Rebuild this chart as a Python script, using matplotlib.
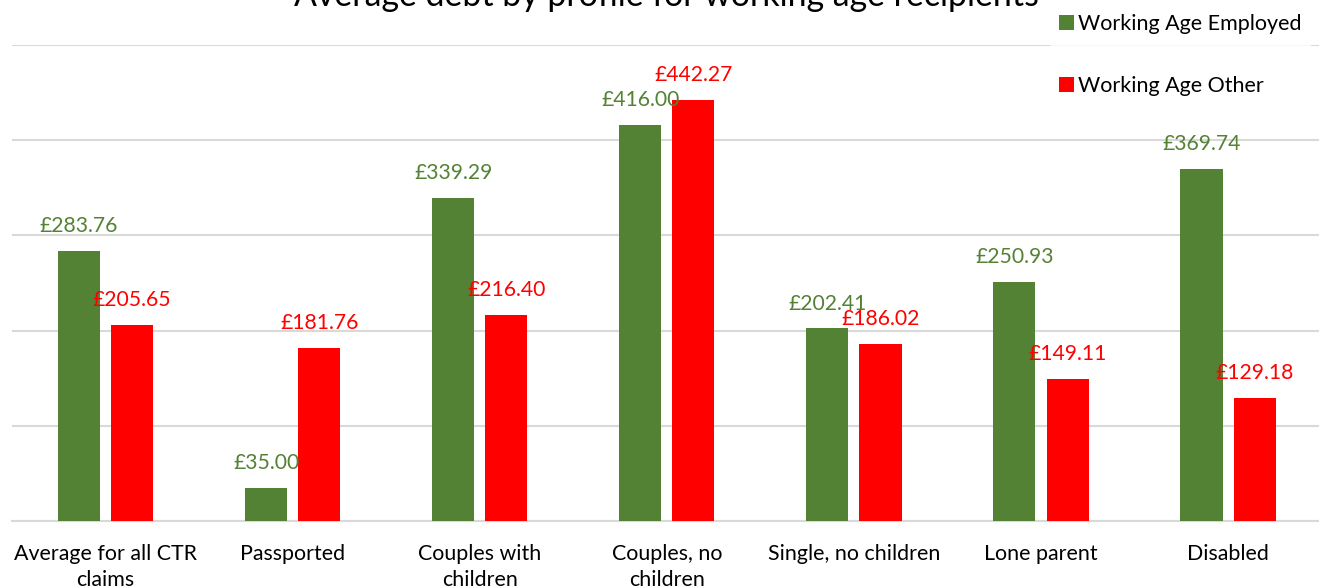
import matplotlib.pyplot as plt
import numpy as np

categories = ["Average for all CTR\nclaims", "Passported", "Couples with\nchildren",
              "Couples, no\nchildren", "Single, no children", "Lone parent", "Disabled"]
employed = [283.76, 35.00, 339.29, 416.00, 202.41, 250.93, 369.74]
other = [205.65, 181.76, 216.40, 442.27, 186.02, 149.11, 129.18]
series_names = ["Working Age Employed", "Working Age Other"]
title = "Average debt by profile for working age recipients"

GREEN = "#548235"
RED = "#FF0000"
GRID = "#D9D9D9"
FONT = "Lato"

plt.rcParams["font.family"] = [FONT, "DejaVu Sans"]

fig = plt.figure(figsize=(13.19, 5.88), dpi=100)
ax = fig.add_axes([12 / 1319, 1 - 521 / 588, 1 - 12 / 1319 + 0.002, (521 - 45) / 588])

x = np.arange(len(categories))
w = 0.225
off = 0.142
b1 = ax.bar(x - off, employed, w, color=GREEN, label=series_names[0], zorder=3)
b2 = ax.bar(x + off, other, w, color=RED, label=series_names[1], zorder=3)

for bars, vals, col in ((b1, employed, GREEN), (b2, other, RED)):
    for rect, v in zip(bars, vals):
        ax.annotate(f"£{v:.2f}", (rect.get_x() + rect.get_width() / 2, v),
                    xytext=(0, 13.5), textcoords="offset points",
                    ha="center", va="baseline", color=col, fontsize=15.2)

ax.set_ylim(0, 500)
ax.set_xlim(-0.5, len(categories) - 0.5)
ax.set_yticks(np.arange(0, 501, 100))
ax.yaxis.grid(True, color=GRID, linewidth=1.5, zorder=0)
ax.tick_params(axis="y", left=False, labelleft=False)
ax.tick_params(axis="x", length=0, pad=16.5, labelsize=15.4)
ax.set_xticks(x)
ax.set_xticklabels(categories, linespacing=1.4)
for s in ("left", "right", "top"):
    ax.spines[s].set_visible(False)
ax.spines["bottom"].set_color(GRID)
ax.spines["bottom"].set_linewidth(1.5)

fig.text(666 / 1319, 1 - 6 / 588, title, ha="center", va="baseline", fontsize=24.4)

leg = fig.legend(loc="upper left", bbox_to_anchor=(1040 / 1319, 1 + 5 / 588),
                 frameon=True, fontsize=15.5, handlelength=0.7, handleheight=0.7,
                 handletextpad=0.15, labelspacing=1.95, borderpad=0.4, fancybox=False)
leg.get_frame().set_facecolor("white")
leg.get_frame().set_edgecolor("white")
leg.set_zorder(5)

fig.savefig("out.png", dpi=100)
